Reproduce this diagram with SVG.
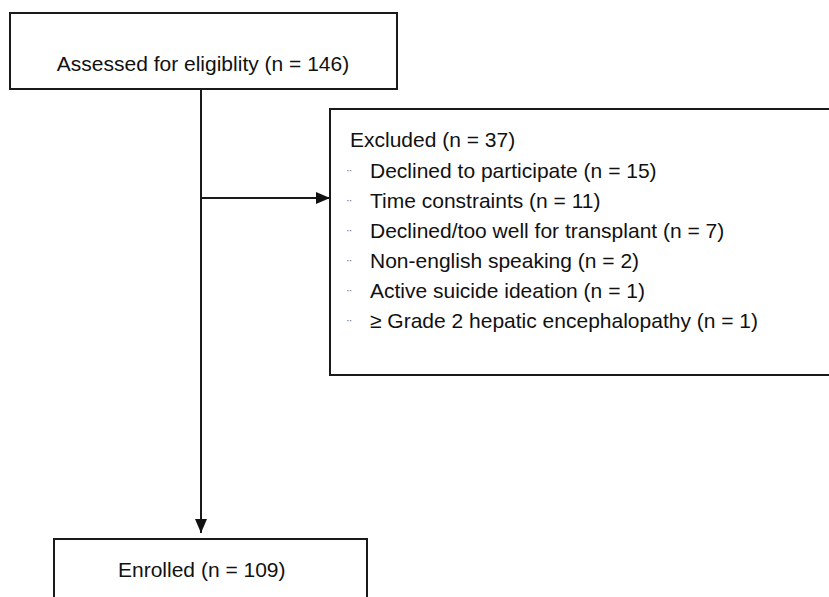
<svg xmlns="http://www.w3.org/2000/svg" width="829" height="597" viewBox="0 0 829 597">
<style>
.box{fill:#fff;stroke:#1a1a1a;stroke-width:2}
.t{font-family:"Liberation Sans",Arial,sans-serif;font-size:21px;fill:#111}
.b{font-family:"Liberation Sans",Arial,sans-serif;font-size:14px;fill:#777}
.c{stroke:#1a1a1a;stroke-width:2;fill:none}
</style>
<defs>
<marker id="ah" viewBox="0 0 14 12" refX="14" refY="6" markerWidth="14" markerHeight="12" markerUnits="userSpaceOnUse" orient="auto">
<path d="M0,0 L14,6 L0,12 Z" fill="#111"/>
</marker>
</defs>
<rect width="829" height="597" fill="#fff"/>
<g id="connectors">
<line class="c" x1="201" y1="89" x2="201" y2="533" marker-end="url(#ah)"/>
<line class="c" x1="201" y1="198" x2="330" y2="198" marker-end="url(#ah)"/>
</g>
<g id="assessed">
<rect class="box" x="10" y="13" width="387" height="76"/>
<text class="t" x="203" y="71" text-anchor="middle">Assessed for eligiblity (n = 146)</text>
</g>
<g id="excluded">
<rect class="box" x="330" y="109" width="520" height="266"/>
<text class="t" x="350" y="147">Excluded (n = 37)</text>
<text class="b" x="347" y="180">¨</text>
<text class="t" x="370" y="178">Declined to participate (n = 15)</text>
<text class="b" x="347" y="210">¨</text>
<text class="t" x="370" y="208">Time constraints (n = 11)</text>
<text class="b" x="347" y="240">¨</text>
<text class="t" x="370" y="238">Declined/too well for transplant (n = 7)</text>
<text class="b" x="347" y="270">¨</text>
<text class="t" x="370" y="268">Non-english speaking (n = 2)</text>
<text class="b" x="347" y="300">¨</text>
<text class="t" x="370" y="298">Active suicide ideation (n = 1)</text>
<text class="b" x="347" y="330">¨</text>
<text class="t" x="370" y="328">≥ Grade 2 hepatic encephalopathy (n = 1)</text>
</g>
<g id="enrolled">
<rect class="box" x="54" y="539" width="313" height="80"/>
<text class="t" x="118" y="577">Enrolled (n = 109)</text>
</g>
</svg>
